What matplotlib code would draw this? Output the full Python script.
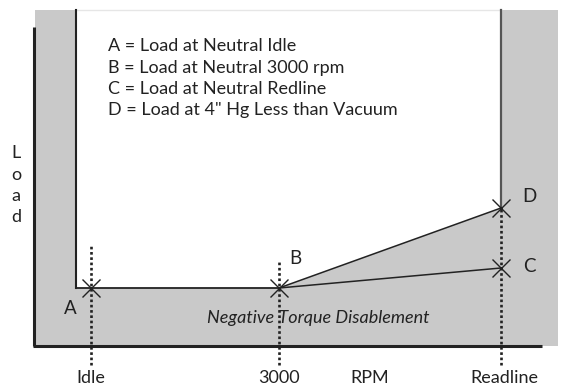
import matplotlib
matplotlib.use("Agg")
import matplotlib.pyplot as plt
from matplotlib.patches import Polygon, Rectangle

plt.rcParams['font.family'] = ['Lato', 'DejaVu Sans']

# ---- data (chart units: x = rpm position, y = load) ----
rpm_tick_labels = ['Idle', '3000', 'Readline']
rpm_tick_pos = [91, 279, 501]
point_names = ['A', 'B', 'C', 'D']
point_rpm = [91, 279, 501, 501]
point_load = [99, 99, 119, 179]
legend_lines = ['A = Load at Neutral Idle',
                'B = Load at Neutral 3000 rpm',
                'C = Load at Neutral Redline',
                'D = Load at 4" Hg Less than Vacuum']
region_label = 'Negative Torque Disablement'
x_label = 'RPM'
y_label = 'Load'

W, H = 561, 387
fig = plt.figure(figsize=(W / 100, H / 100), dpi=100)
ax = fig.add_axes([0, 0, 1, 1])
ax.set_xlim(0, W)
ax.set_ylim(0, H)
ax.axis('off')

gray = '#c9c9c9'
dark = '#222222'
FS = 13

# gray background region
ax.add_patch(Rectangle((35, 41), 558 - 35, 377 - 41, facecolor=gray, edgecolor='none', zorder=1))

A, B, C, D = [(x, y) for x, y in zip(point_rpm, point_load)]
# white (allowed) region
white_poly = [(76, 377), (D[0], 377), D, B, (76, A[1])]
ax.add_patch(Polygon(white_poly, closed=True, facecolor='white', edgecolor='none', zorder=2))

# boundaries
ax.plot([76, D[0]], [377, 377], color='#e6e6e6', lw=1.0, zorder=3)
ax.plot([76, 76], [A[1], 377], color=dark, lw=1.5, zorder=3)
ax.plot([D[0], D[0]], [D[1], 377], color='#555555', lw=1.6, zorder=3)
ax.plot([76, B[0]], [A[1], B[1]], color=dark, lw=1.3, zorder=3)
ax.plot([B[0], D[0]], [B[1], D[1]], color=dark, lw=1.1, zorder=3)
ax.plot([B[0], C[0]], [B[1], C[1]], color=dark, lw=1.1, zorder=3)

# axes
ax.plot([34, 34], [41, 360], color=dark, lw=2.2, zorder=4, solid_capstyle='butt')
ax.plot([33, 542], [41, 41], color=dark, lw=2.2, zorder=4, solid_capstyle='butt')

# dotted rpm guides
guide_tops = [141, 126, 179]
for x, top in zip(rpm_tick_pos, guide_tops):
    ax.plot([x, x], [22, top], color=dark, lw=1.9, dashes=(1, 1), zorder=5)

# markers
ax.plot(point_rpm, point_load, linestyle='none', marker='x', ms=13.5, mew=1.0,
        color=dark, zorder=6)

# point labels
label_pos = [(70, 78), (295, 129), (529, 120), (529, 190)]
for name, (lx, ly) in zip(point_names, label_pos):
    ax.text(lx, ly, name, fontsize=FS + 0.5, ha='center', va='center', color=dark, zorder=7)

# legend text
for i, line in enumerate(legend_lines):
    ax.text(108, 341 - i * 21.5, line, fontsize=FS, ha='left', va='center', color=dark, zorder=7)

ax.text(318, 69, region_label, fontsize=FS, style='italic', ha='center', va='center',
        color=dark, zorder=7)

# tick labels
for lab, x in zip(rpm_tick_labels, rpm_tick_pos):
    ax.text(x + (3 if lab == 'Readline' else 0), 9, lab, fontsize=FS, ha='center',
            va='center', color=dark)
ax.text(370, 9, x_label, fontsize=FS, ha='center', va='center', color=dark)

for i, ch in enumerate(y_label):
    ax.text(16, 234 - i * 21.5, ch, fontsize=FS, ha='center', va='center', color=dark)

fig.savefig('out.png', dpi=100)
